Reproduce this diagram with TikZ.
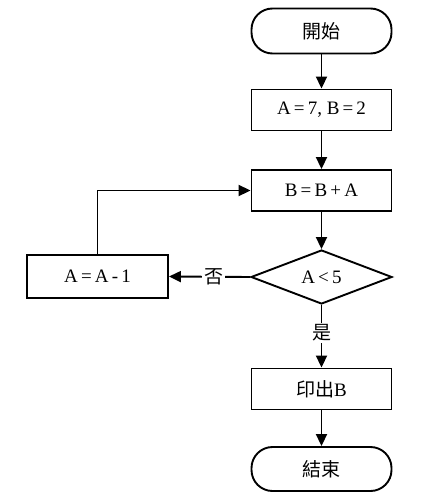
\documentclass[tikz,border=0pt]{standalone}
\usepackage{fontspec}
\setmainfont{Liberation Serif}
\newfontfamily\cjk{Noto Sans CJK TC}
\usetikzlibrary{arrows.meta, positioning, shapes.geometric}

\begin{document}
\begin{tikzpicture}[
  x=1pt, y=-1pt,
  block/.style={rectangle, draw=black, line width=1.9pt, fill=white,
    minimum width=140pt, minimum height=41pt, font=\fontsize{19}{22}\selectfont, inner sep=0pt},
  terminal/.style={block, rounded corners=21pt, minimum height=45pt},
  decision/.style={diamond, draw=black, line width=1.9pt, fill=white, aspect=2.6,
    minimum width=141pt, minimum height=54pt, font=\fontsize{19}{22}\selectfont, inner sep=0pt},
  arrow/.style={-{Triangle[length=12pt, width=11pt]}, line width=1.9pt},
  tag/.style={fill=white, inner sep=2pt, font=\fontsize{19}{22}\selectfont}
]
\useasboundingbox (0,0) rectangle (424,500);

% main column
\node[terminal] (start) at (321.5, 31) {\cjk 開始};
\node[block] (init) at (321.5, 110) {A\,=\,7, B\,=\,2};
\node[block] (update) at (321.5, 190.5) {B\,=\,B\,+\,A};
\node[decision] (test) at (321.5, 277) {A\,<\,5};
\node[block] (show) at (321.5, 389) {{\cjk 印出}B};
\node[terminal, minimum height=44pt] (stop) at (321.5, 469) {\cjk 結束};

% loop branch
\node[block, minimum width=141pt, minimum height=43pt] (dec) at (97.5, 276.5) {A\,=\,A\,-\,1};

% connectors
\draw[arrow] (start) -- (init);
\draw[arrow] (init) -- (update);
\draw[arrow] (update) -- (test);
\draw[arrow] (test) -- node[tag, pos=0.45] {\cjk 是} (show);
\draw[arrow] (show) -- (stop);
\draw[arrow] (test.west) -- node[tag, pos=0.45] {\cjk 否} (dec.east);
\draw[arrow] (dec.north) |- (update.west);
\end{tikzpicture}
\end{document}
